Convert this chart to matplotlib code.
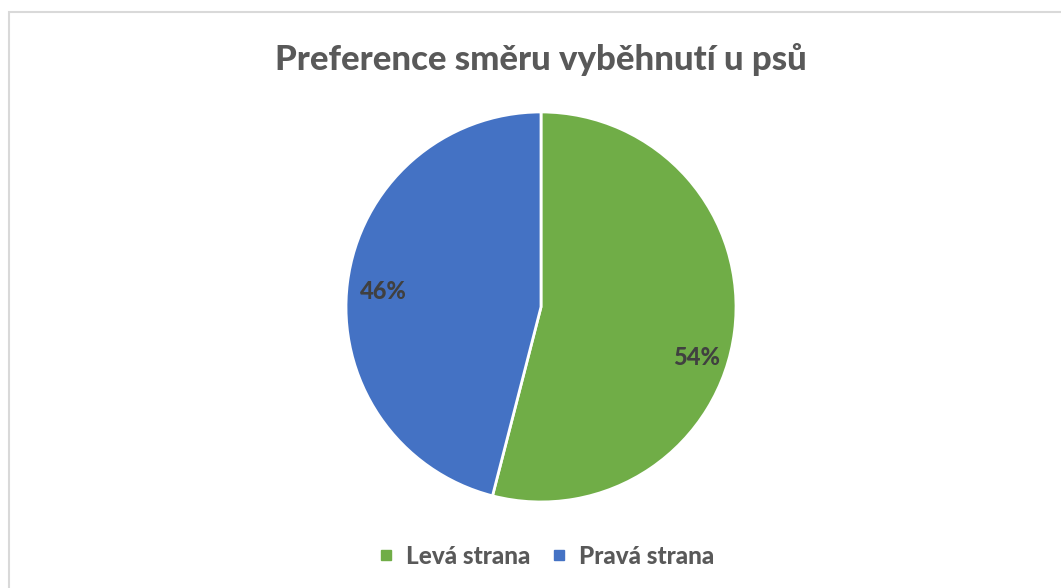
import numpy as np
import matplotlib.pyplot as plt
from matplotlib.patches import Rectangle
from matplotlib.lines import Line2D

labels = ["Levá strana", "Pravá strana"]
values = [54, 46]
colors = ["#70AD47", "#4472C4"]
title = "Preference směru vyběhnutí u psů"

plt.rcParams['font.family'] = ['Lato', 'DejaVu Sans']

fig = plt.figure(figsize=(10.61, 5.88), dpi=100)
fig.patch.set_facecolor("white")

# light frame around the chart area (right/bottom run off the image)
fig.patches.append(Rectangle((9 / 1061, -0.05), 1.2, 1 - 12 / 588 + 0.05,
                             transform=fig.transFigure, fill=False,
                             edgecolor="#d9d9d9", lw=1.5))

ax = fig.add_axes([0.3261, 0.1463, 0.3676, 0.6633])
wedges, texts, autotexts = ax.pie(values, colors=colors, startangle=90, counterclock=False,
                                  autopct="%1.0f%%", pctdistance=0.82,
                                  wedgeprops=dict(edgecolor="white", linewidth=2),
                                  textprops=dict(fontsize=17, fontweight="black", color="#404040"))
# Excel's "best fit" label spots
for t, ang, r in zip(autotexts, [-17.8, 174.5], [0.84, 0.81]):
    a = np.deg2rad(ang)
    t.set_position((r * np.cos(a), r * np.sin(a)))
ax.set_xlim(-1, 1)
ax.set_ylim(-1, 1)
ax.set_aspect("equal")

fig.text(0.51, 1 - 60 / 588, title, ha="center", va="center",
         fontsize=25, fontweight="black", color="#595959")

handles = [Line2D([], [], marker="s", linestyle="none", color=c, markersize=7.5) for c in colors]
fig.legend(handles, labels, loc="center", bbox_to_anchor=(0.515, 1 - 556 / 588), ncol=2,
           frameon=False, handlelength=0.6, handletextpad=0.5, columnspacing=0.9,
           prop=dict(size=17.5, weight="black"), labelcolor="#595959")

fig.savefig("out.png", dpi=100)
